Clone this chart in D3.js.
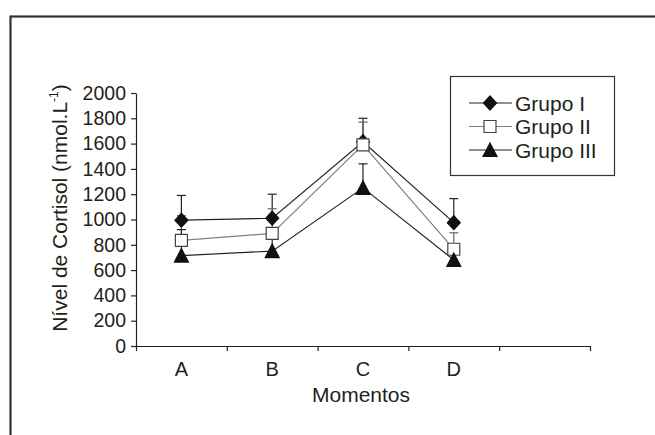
<!DOCTYPE html>
<html>
<head>
<meta charset="utf-8">
<script src="https://cdn.jsdelivr.net/npm/d3@7"></script>
<style>
  body { margin: 0; background: #fff; }
  text { font-family: "Liberation Sans", Arial, sans-serif; fill: #231f20; }
</style>
</head>
<body>
<svg width="655" height="435"></svg>
<script>
// ~~~~~~ DATA ~~~~~~
var categories = ["A", "B", "C", "D"];
var seriesNames = ["Grupo I", "Grupo II", "Grupo III"];
var grupoI   = [995, 1010, 1615, 975];
var grupoII  = [835, 890, 1590, 765];
var grupoIII = [715, 750, 1250, 680];
// upper error bars (SD)
var sdI   = [195, 190, 185, 190];
var sdII  = [195, 195, 180, 130];
var sdIII = [205, 130, 190, 100];
var yTicks = [0, 200, 400, 600, 800, 1000, 1200, 1400, 1600, 1800, 2000];

var series = [
  {name: seriesNames[0], values: grupoI,   sd: sdI,   shape: "diamond",  line: "#222", fill: "#111", stroke: "#111"},
  {name: seriesNames[1], values: grupoII,  sd: sdII,  shape: "square",   line: "#808080", fill: "#fff", stroke: "#444"},
  {name: seriesNames[2], values: grupoIII, sd: sdIII, shape: "triangle", line: "#222", fill: "#111", stroke: "#111"}
];

// ~~~~~~ SVG ~~~~~~
var svg = d3.select("svg");

// outer frame (cut at right and bottom)
svg.append("rect")
   .attr("x", 10.5).attr("y", 16.5)
   .attr("width", 700).attr("height", 500)
   .attr("fill", "none")
   .attr("stroke", "#333")
   .attr("stroke-width", 2.2);

// ~~~~~~ SCALES ~~~~~~
// five slots, the last one empty
var x = d3.scaleBand().domain(categories.concat([""])).range([136, 590]);
var xEdge = d3.scaleLinear().domain([0, 5]).range([136, 590]);
var y = d3.scaleLinear().domain([0, 2000]).range([346, 93]);

// ~~~~~~ AXES ~~~~~~
var yAxis = svg.append("g")
   .attr("transform", "translate(136,0)")
   .call(d3.axisLeft(y).tickValues(yTicks).tickFormat(d3.format("d"))
           .tickSize(5).tickSizeOuter(0).tickPadding(5));
yAxis.attr("font-size", null).attr("font-family", null);
yAxis.selectAll("text").style("font-size", "19.5px");

var xTicks = svg.append("g")
   .attr("transform", "translate(0,346)")
   .call(d3.axisBottom(xEdge).ticks(5).tickSize(5).tickSizeOuter(0).tickFormat(""));

var xAxis = svg.append("g")
   .attr("transform", "translate(0,346)")
   .call(d3.axisBottom(x).tickSize(0).tickPadding(15.5));
xAxis.attr("font-size", null).attr("font-family", null);
xAxis.select(".domain").remove();
xAxis.selectAll("text").style("font-size", "20px");

svg.selectAll(".domain, .tick line").attr("stroke", "#222").attr("stroke-width", 1.2);

// axis titles
svg.append("text")
   .attr("x", 361).attr("y", 402)
   .attr("text-anchor", "middle")
   .style("font-size", "21px")
   .text("Momentos");

var yTitle = svg.append("text")
   .attr("transform", "translate(66.5,208) rotate(-90)")
   .attr("text-anchor", "middle")
   .style("font-size", "21px");
yTitle.append("tspan").text("Nível de Cortisol (nmol.L");
yTitle.append("tspan").attr("dy", -9).style("font-size", "12px").text("-1");
yTitle.append("tspan").attr("dy", 9).text(")");

// ~~~~~~ MARKERS ~~~~~~
function markerPath(shape) {
  if (shape == "diamond") return "M0,-7L6.5,0L0,7L-6.5,0Z";
  if (shape == "square") return "M-6,-6H6V6H-6Z";
  return "M0,-7L7,6.5L-7,6.5Z";
}

var cx = function(i) { return x(categories[i]) + x.bandwidth() / 2; };

var drawLine = d3.line()
   .x(function(d, i) { return cx(i); })
   .y(function(d) { return y(d); });

// lines
series.forEach(function(s) {
  svg.append("path")
     .attr("d", drawLine(s.values))
     .attr("fill", "none")
     .attr("stroke", s.line)
     .attr("stroke-width", 1.2);
});

// error bars (upper only)
series.forEach(function(s) {
  var g = svg.append("g").attr("stroke", s.line == "#808080" ? "#666" : "#222").attr("stroke-width", 1.2);
  s.values.forEach(function(v, i) {
    g.append("line")
     .attr("x1", cx(i)).attr("x2", cx(i))
     .attr("y1", y(v)).attr("y2", y(v + s.sd[i]));
    g.append("line")
     .attr("x1", cx(i) - 4.5).attr("x2", cx(i) + 4.5)
     .attr("y1", y(v + s.sd[i])).attr("y2", y(v + s.sd[i]));
  });
});

// points
series.forEach(function(s) {
  svg.selectAll(null)
     .data(s.values)
     .enter()
     .append("path")
     .attr("transform", function(d, i) { return "translate(" + cx(i) + "," + y(d) + ")"; })
     .attr("d", markerPath(s.shape))
     .attr("fill", s.fill)
     .attr("stroke", s.stroke)
     .attr("stroke-width", 1.2);
});

// ~~~~~~ LEGEND ~~~~~~
var legend = svg.append("g");
legend.append("rect")
   .attr("x", 450.5).attr("y", 76.5)
   .attr("width", 164).attr("height", 99)
   .attr("fill", "#fff")
   .attr("stroke", "#333")
   .attr("stroke-width", 1.2);

series.forEach(function(s, i) {
  var ly = 103 + i * 23.5;
  legend.append("line")
     .attr("x1", 469).attr("x2", 512)
     .attr("y1", ly).attr("y2", ly)
     .attr("stroke", s.line)
     .attr("stroke-width", 1.2);
  legend.append("path")
     .attr("transform", "translate(490," + ly + ")")
     .attr("d", markerPath(s.shape))
     .attr("fill", s.fill)
     .attr("stroke", s.stroke)
     .attr("stroke-width", 1.2);
  legend.append("text")
     .attr("x", 515).attr("y", ly + 7.5)
     .style("font-size", "21px")
     .text(s.name);
});
</script>
</body>
</html>
